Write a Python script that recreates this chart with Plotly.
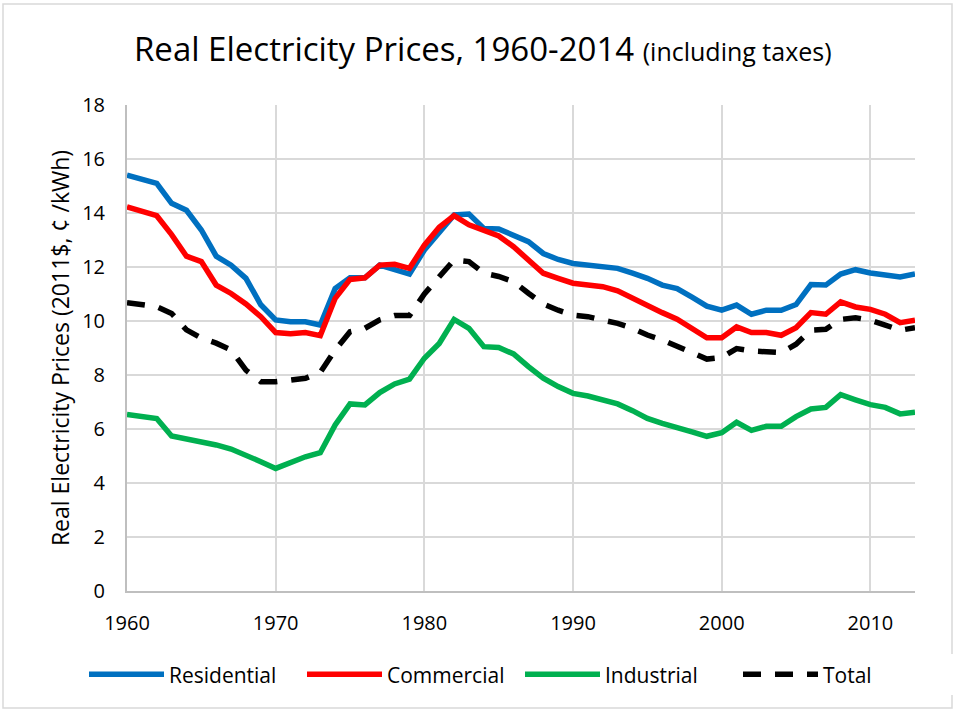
import plotly.graph_objects as go

years = list(range(1960, 2014))

residential = [15.40, 15.25, 15.10, 14.36, 14.10, 13.37, 12.40, 12.07, 11.58, 10.60,
               10.04, 9.97, 9.97, 9.85, 11.20, 11.60, 11.60, 12.07, 11.90, 11.74,
               12.63, 13.25, 13.93, 13.96, 13.43, 13.41, 13.19, 12.94, 12.50, 12.28,
               12.13, 12.07, 12.05, 11.95, 11.77, 11.58, 11.33, 11.20, 10.88, 10.55,
               10.40, 10.59, 10.25, 10.40, 10.40, 10.61, 11.35, 11.33, 11.74, 11.90,
               11.78, 11.70, 11.63, 11.74]

commercial = [14.23, 14.05, 13.90, 13.20, 12.40, 12.20, 11.33, 11.02, 10.63, 10.16,
              9.57, 9.53, 9.57, 9.46, 10.84, 11.54, 11.60, 12.07, 12.10, 11.95,
              12.81, 13.47, 13.90, 13.56, 13.35, 13.15, 12.75, 12.26, 11.77, 11.58,
              11.40, 11.33, 11.27, 11.12, 10.84, 10.56, 10.31, 10.07, 9.72, 9.38,
              9.38, 9.78, 9.57, 9.57, 9.47, 9.75, 10.31, 10.25, 10.71, 10.52,
              10.43, 10.25, 9.94, 10.03]

industrial = [6.54, 6.47, 6.39, 5.74, 5.64, 5.56, 5.41, 5.26, 5.04, 4.79,
              4.54, 4.75, 4.97, 5.12, 6.15, 6.93, 6.89, 7.35, 7.67, 7.85,
              8.62, 9.17, 10.06, 9.73, 9.05, 9.02, 8.78, 8.31, 7.88, 7.57,
              7.32, 7.22, 7.07, 6.93, 6.68, 6.39, 6.21, 6.03, 5.89, 5.73,
              5.86, 6.25, 5.95, 6.10, 6.10, 6.46, 6.74, 6.80, 7.27, 7.08,
              6.90, 6.80, 6.56, 6.62]

total = [10.68, 10.60, 10.53, 10.28, 9.67, 9.37, 9.18, 8.93, 8.18, 7.75,
         7.75, 7.81, 7.88, 8.10, 8.93, 9.60, 9.73, 10.04, 10.20, 10.20,
         11.00, 11.64, 12.26, 12.20, 11.77, 11.65, 11.46, 11.03, 10.63, 10.40,
         10.22, 10.16, 10.06, 9.91, 9.73, 9.48, 9.30, 9.07, 8.85, 8.59,
         8.65, 8.98, 8.89, 8.86, 8.83, 9.14, 9.66, 9.69, 10.06, 10.12,
         10.03, 9.85, 9.66, 9.75]

series = [
    ("Residential", residential, "#0070C0", "solid"),
    ("Commercial", commercial, "#FF0000", "solid"),
    ("Industrial", industrial, "#00B050", "solid"),
    ("Total", total, "#000000", "18px,14px"),
]

FONT = "Open Sans, sans-serif"

fig = go.Figure()
for name, vals, color, dash in series:
    fig.add_trace(go.Scatter(
        x=years, y=vals, name=name, mode="lines",
        line=dict(color=color, width=5.5, dash=dash),
    ))

fig.update_layout(
    width=956, height=711,
    paper_bgcolor="white", plot_bgcolor="white",
    margin=dict(l=127, r=41, t=105, b=120),
    font=dict(family=FONT, color="#000000"),
    title=dict(
        text="Real Electricity Prices, 1960-2014 <span style='font-size:25px'>(including taxes)</span>",
        x=0.505, xanchor="center", y=0.93, yanchor="middle",
        font=dict(size=33, family=FONT),
    ),
    xaxis=dict(
        range=[1960, 2013], tick0=1960, dtick=10,
        showgrid=True, gridcolor="#D9D9D9", gridwidth=2,
        showline=True, linecolor="#BFBFBF", linewidth=2,
        ticks="", tickfont=dict(size=20, family=FONT),
        ticklabelstandoff=13,
        zeroline=False,
    ),
    yaxis=dict(
        range=[0, 18], dtick=2,
        showgrid=True, gridcolor="#D9D9D9", gridwidth=2,
        showline=True, linecolor="#BFBFBF", linewidth=2,
        ticks="", tickfont=dict(size=20, family=FONT),
        ticklabelstandoff=16,
        zeroline=False,
        title=dict(text="Real Electricity Prices (2011$, ¢ /kWh)",
                   font=dict(size=23, family=FONT), standoff=6),
    ),
    legend=dict(
        orientation="h", x=(105 - 127) / 788, xanchor="left", y=-0.13, yanchor="top",
        font=dict(size=21, family=FONT), itemwidth=75,
        entrywidth=128, entrywidthmode="pixels",
        tracegroupgap=0,
    ),
    shapes=[dict(type="rect", xref="paper", yref="paper",
                 x0=(3 - 127) / 788, x1=(952 - 127) / 788,
                 y0=(591 - 708) / 486, y1=(591 - 4) / 486,
                 line=dict(color="#D9D9D9", width=1.5), layer="below")],
)

fig.write_html("out.html", config={"displayModeBar": False},
               post_script="document.body.style.margin='0px';")
